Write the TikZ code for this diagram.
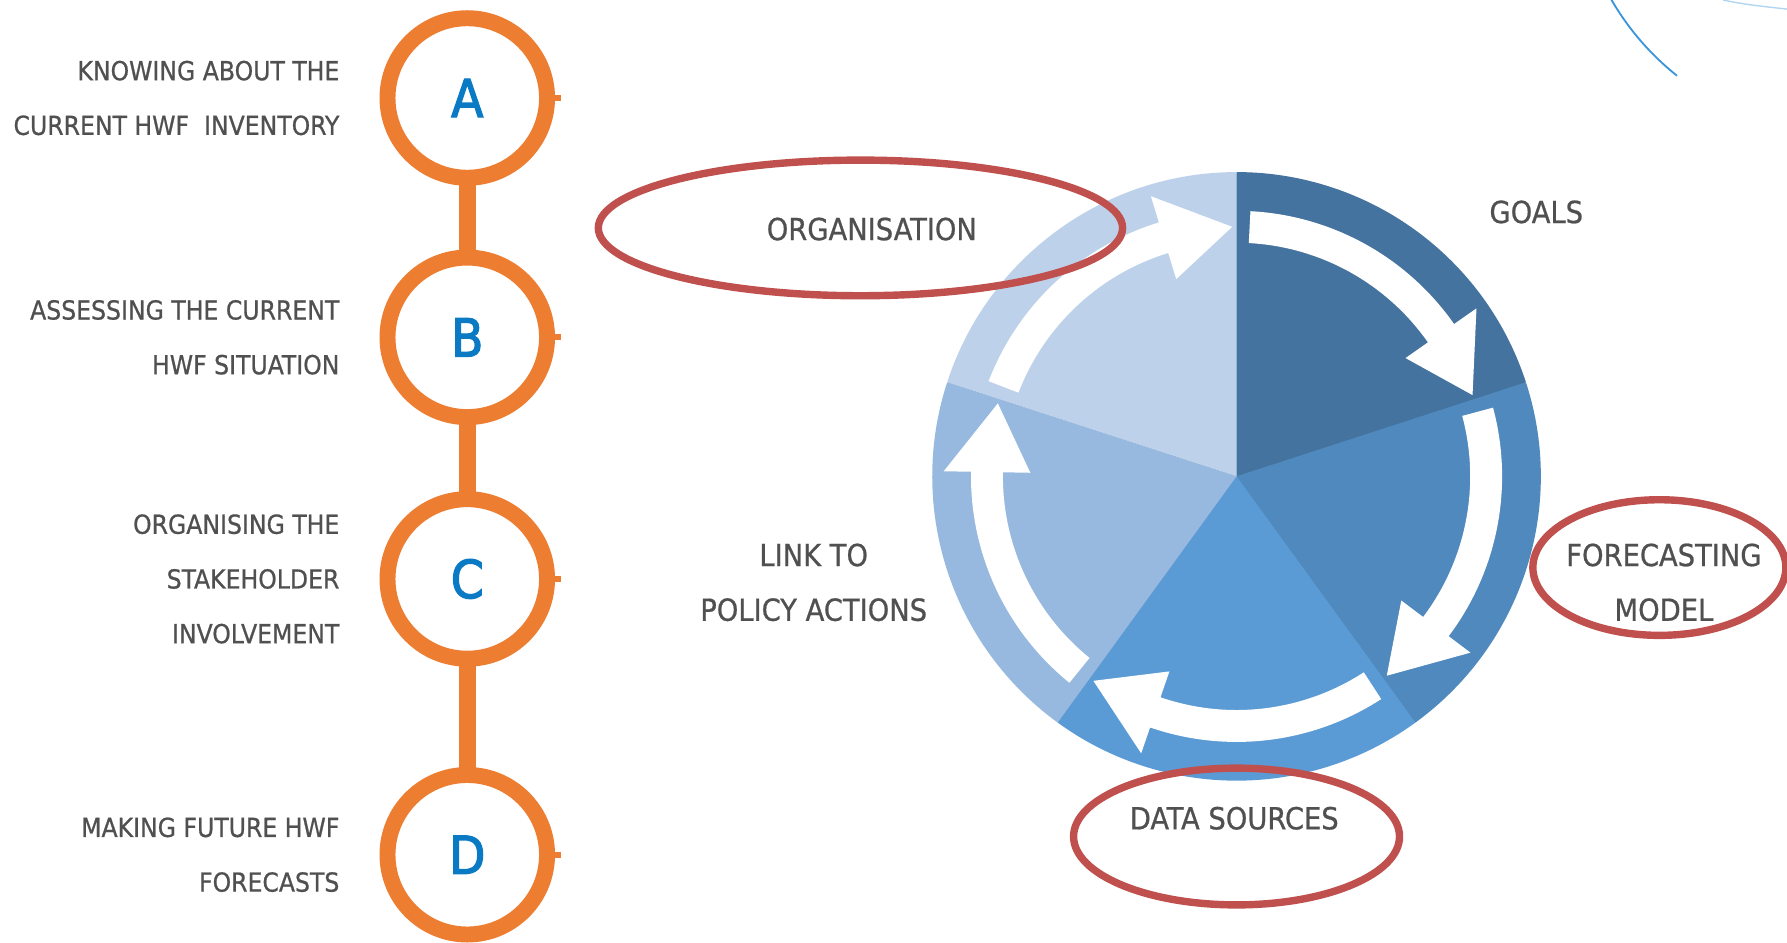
\documentclass[tikz,border=0pt]{standalone}
\usepackage{fontspec}
\newfontfamily\labfont[FakeBold=0.7]{DejaVu Sans Condensed}
\newfontfamily\letfont[FakeBold=2.4]{DejaVu Sans Condensed}
\usetikzlibrary{calc}
\definecolor{ring}{HTML}{ED7D31}
\definecolor{letter}{HTML}{0A7AC4}
\definecolor{txt}{HTML}{505050}
\definecolor{redline}{HTML}{C0504D}
\definecolor{sGoal}{HTML}{44739F}
\definecolor{sFore}{HTML}{4F89BD}
\definecolor{sData}{HTML}{5B9BD5}
\definecolor{sLink}{HTML}{98B9DF}
\definecolor{sOrg}{HTML}{BDD2EA}
\definecolor{deco}{HTML}{3A96DA}
\begin{document}
\begin{tikzpicture}[x=1pt,y=1pt,
  stepcirc/.style={circle, draw=ring, line width=14pt, minimum size=140pt, inner sep=0pt, text=letter, font=\letfont\fontsize{46}{46}\selectfont},
  stem/.style={draw=ring, line width=15pt},
  stub/.style={draw=ring, line width=5pt},
  lefttext/.style={anchor=east, align=right, text=txt, font=\labfont\fontsize{23}{48}\selectfont, inner sep=0pt},
  pielabel/.style={align=center, text=txt, font=\labfont\fontsize{26.7}{48}\selectfont, inner sep=0pt},
  redring/.style={draw=redline, line width=6.5pt},
  decoline/.style={draw=deco, line width=1.6pt}
]
\fill[white] (0,0) rectangle (1568,827);
\useasboundingbox (0,0) rectangle (1568,827);

% ---- left timeline ----
\node[stepcirc] (A) at (410,741) {A};
\node[stepcirc] (B) at (410,531) {B};
\node[stepcirc] (C) at (410,319) {C};
\node[stepcirc] (D) at (410,77) {D};
\draw[stem] ([yshift=4pt]A.south) -- ([yshift=-4pt]B.north);
\draw[stem] ([yshift=4pt]B.south) -- ([yshift=-4pt]C.north);
\draw[stem] ([yshift=4pt]C.south) -- ([yshift=-4pt]D.north);
\foreach \n in {A,B,C,D}{
  \draw[stub] ([xshift=-3pt]\n.east) -- ++(8pt,0);
}
\node[lefttext] (tA) at (298,741) {KNOWING ABOUT THE\\CURRENT HWF\ \ INVENTORY};
\node[lefttext] (tB) at (298,531) {ASSESSING THE CURRENT\\HWF SITUATION};
\node[lefttext] (tC) at (298,319) {ORGANISING THE\\STAKEHOLDER\\INVOLVEMENT};
\node[lefttext] (tD) at (298,77) {MAKING FUTURE HWF\\FORECASTS};

% ---- pie ----
\coordinate (pc) at (1085,409);
\begin{scope}[shift={(1085,409)}]
  \fill[sFore] (0,0) circle[radius=266pt];
  \fill[sGoal] (0,0) -- (90:267pt) arc[start angle=90,end angle=18,radius=267pt] -- cycle;
  \fill[sFore] (0,0) -- (18:267pt) arc[start angle=18,end angle=-54,radius=267pt] -- cycle;
  \fill[sData] (0,0) -- (-54:267pt) arc[start angle=-54,end angle=-126,radius=267pt] -- cycle;
  \fill[sLink] (0,0) -- (-126:267pt) arc[start angle=-126,end angle=-198,radius=267pt] -- cycle;
  \fill[sOrg] (0,0) -- (162:267pt) arc[start angle=162,end angle=90,radius=267pt] -- cycle;
  \foreach \b in {90,18,-54,-126,-198}{
    \pgfmathsetmacro\s{\b-3}
    \pgfmathsetmacro\t{\b-71}
    \pgfmathsetmacro\h{\b-71+16}
    \fill[white] (\s:233pt) arc[start angle=\s, end angle=\h, radius=233pt]
      -- (\h:257pt) -- (\t:219pt) -- (\h:181pt) -- (\h:205pt)
      arc[start angle=\h, end angle=\s, radius=205pt] -- cycle;
  }
\end{scope}

% ---- labels ----
\node[pielabel] (org) at (765,626) {ORGANISATION};
\node[pielabel] (goals) at (1348,641) {GOALS};
\node[pielabel] (fore) at (1460,316) {FORECASTING\\MODEL};
\node[pielabel] (data) at (1083,109) {DATA SOURCES};
\node[pielabel] (link) at (714,316) {LINK TO\\POLICY ACTIONS};

% ---- red highlight ellipses ----
\coordinate (eOrg) at (755,627);
\coordinate (eFore) at (1456,329);
\coordinate (eData) at (1085,93);
\draw[redring] (eOrg) ellipse [x radius=230pt, y radius=59.5pt];
\draw[redring] (eFore) ellipse [x radius=111pt, y radius=59.5pt];
\draw[redring] (eData) ellipse [x radius=143pt, y radius=60pt];

% ---- decorative arcs top right ----
\coordinate (dc) at (1619,946);
\draw[decoline] ($(dc)+(210:237pt)$) arc[start angle=210, end angle=231.5, radius=237pt];
\coordinate (d1) at (1512,827);
\coordinate (d2) at (1568,819);
\draw[decoline, line width=1.2pt, opacity=0.4] (d1) .. controls (1530,823) and (1550,821) .. (d2);
\end{tikzpicture}
\end{document}
